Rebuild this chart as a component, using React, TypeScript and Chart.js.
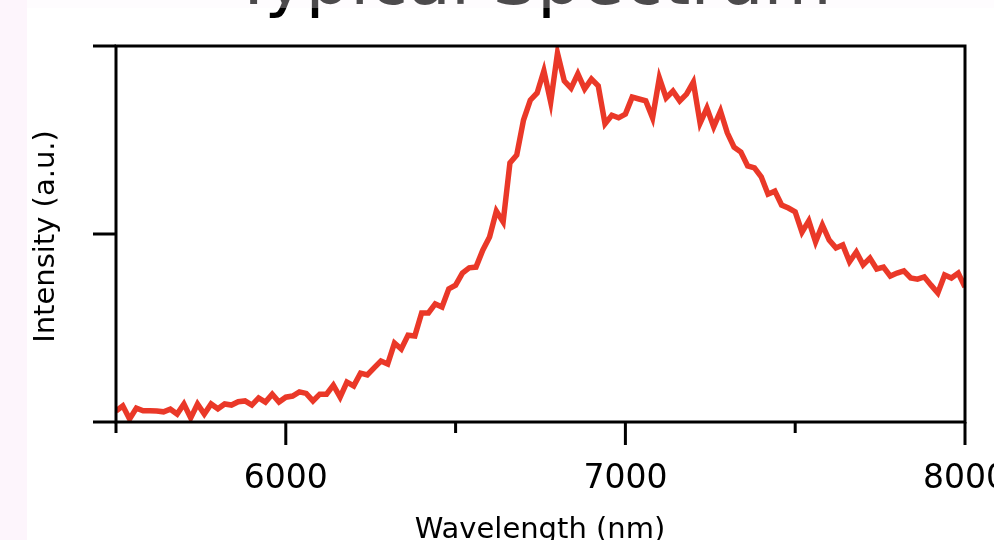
import { useEffect, useRef } from 'react';
import { Chart, registerables } from 'chart.js';

Chart.register(...registerables);

const TITLE = 'Typical Spectrum';
const X_TITLE = 'Wavelength (nm)';
const Y_TITLE = 'Intensity (a.u.)';

const wavelengths = [
  5500, 5520, 5540, 5560, 5580, 5600, 5620, 5640, 5660, 5680,
  5700, 5720, 5740, 5760, 5780, 5800, 5820, 5840, 5860, 5880,
  5900, 5920, 5940, 5960, 5980, 6000, 6020, 6040, 6060, 6080,
  6100, 6120, 6140, 6160, 6180, 6200, 6220, 6240, 6260, 6280,
  6300, 6320, 6340, 6360, 6380, 6400, 6420, 6440, 6460, 6480,
  6500, 6520, 6540, 6560, 6580, 6600, 6620, 6640, 6660, 6680,
  6700, 6720, 6740, 6760, 6780, 6800, 6820, 6840, 6860, 6880,
  6900, 6920, 6940, 6960, 6980, 7000, 7020, 7040, 7060, 7080,
  7100, 7120, 7140, 7160, 7180, 7200, 7220, 7240, 7260, 7280,
  7300, 7320, 7340, 7360, 7380, 7400, 7420, 7440, 7460, 7480,
  7500, 7520, 7540, 7560, 7580, 7600, 7620, 7640, 7660, 7680,
  7700, 7720, 7740, 7760, 7780, 7800, 7820, 7840, 7860, 7880,
  7900, 7920, 7940, 7960, 7980, 8000,
];

const intensity = [
  0.029, 0.043, 0.008, 0.037, 0.030, 0.030, 0.029, 0.027, 0.034, 0.021,
  0.048, 0.011, 0.048, 0.021, 0.048, 0.035, 0.048, 0.045, 0.054, 0.056,
  0.045, 0.064, 0.053, 0.074, 0.053, 0.066, 0.069, 0.080, 0.076, 0.056,
  0.074, 0.074, 0.098, 0.066, 0.106, 0.096, 0.130, 0.125, 0.144, 0.162,
  0.154, 0.210, 0.194, 0.231, 0.229, 0.290, 0.290, 0.314, 0.306, 0.354,
  0.364, 0.396, 0.410, 0.412, 0.457, 0.492, 0.561, 0.532, 0.689, 0.710,
  0.803, 0.856, 0.875, 0.934, 0.851, 0.981, 0.907, 0.888, 0.926, 0.886,
  0.912, 0.894, 0.793, 0.816, 0.809, 0.819, 0.864, 0.859, 0.854, 0.809,
  0.915, 0.862, 0.880, 0.854, 0.872, 0.904, 0.795, 0.835, 0.785, 0.827,
  0.769, 0.731, 0.718, 0.681, 0.676, 0.652, 0.606, 0.614, 0.577, 0.569,
  0.559, 0.505, 0.535, 0.479, 0.524, 0.484, 0.463, 0.471, 0.426, 0.452,
  0.418, 0.436, 0.407, 0.412, 0.388, 0.396, 0.402, 0.383, 0.380, 0.386,
  0.364, 0.343, 0.391, 0.383, 0.396, 0.359,
];

const xTicks = [5500, 6000, 6500, 7000, 7500, 8000];
const xLabelTicks = [6000, 7000, 8000];
const yTicks = [0, 0.5, 1];

const RED = 'rgb(234, 56, 40)';
const PINK = 'rgb(253, 245, 252)';
const FONT = '"DejaVu Sans", Verdana, sans-serif';

const framePlugin = {
  id: 'igorFrame',
  beforeDraw(chart: any) {
    const { ctx, width, height } = chart;
    ctx.save();
    ctx.fillStyle = PINK;
    ctx.fillRect(0, 0, width, height);
    ctx.fillStyle = '#ffffff';
    ctx.fillRect(27, 0, width - 27, height);
    ctx.restore();
  },
  afterDatasetsDraw(chart: any) {
    const { ctx, chartArea } = chart;
    const xs = chart.scales.x;
    const ys = chart.scales.y;
    const { left, right, top, bottom } = chartArea;
    ctx.save();
    ctx.strokeStyle = '#000';
    ctx.lineWidth = 3;
    ctx.lineCap = 'butt';
    ctx.beginPath();
    ctx.rect(left, top, right - left, bottom - top);
    ctx.stroke();
    ctx.beginPath();
    for (const v of yTicks) {
      const y = ys.getPixelForValue(v);
      ctx.moveTo(left - 23, y);
      ctx.lineTo(left, y);
    }
    for (const v of xTicks) {
      const x = xs.getPixelForValue(v);
      const len = xLabelTicks.includes(v) ? 23 : 11;
      ctx.moveTo(x, bottom);
      ctx.lineTo(x, bottom + len);
    }
    ctx.stroke();
    ctx.restore();
  },
  afterDraw(chart: any) {
    const { ctx, chartArea, width } = chart;
    const xs = chart.scales.x;
    const { bottom } = chartArea;
    ctx.save();
    ctx.fillStyle = '#000';
    ctx.font = `33px ${FONT}`;
    ctx.textAlign = 'center';
    ctx.textBaseline = 'alphabetic';
    for (const v of xLabelTicks) {
      ctx.fillText(String(v), xs.getPixelForValue(v), bottom + 66);
    }
    ctx.font = `29px ${FONT}`;
    ctx.fillText(X_TITLE, 540, 538);
    ctx.save();
    ctx.translate(54, 236.5);
    ctx.rotate(-Math.PI / 2);
    ctx.textAlign = 'center';
    ctx.fillText(Y_TITLE, 0, 0);
    ctx.restore();
    ctx.font = `70px ${FONT}`;
    ctx.textAlign = 'center';
    ctx.fillText(TITLE, 532, 4);
    ctx.fillStyle = 'rgba(253, 245, 252, 0.3)';
    ctx.fillRect(0, 0, width, 8);
    ctx.fillStyle = PINK;
    ctx.fillRect(0, 0, 27, chart.height);
    ctx.restore();
  },
};

export default function App() {
  const ref = useRef<HTMLCanvasElement>(null);
  useEffect(() => {
    const points = wavelengths.map((x, i) => ({ x, y: intensity[i] }));
    const chart = new Chart(ref.current as HTMLCanvasElement, {
      type: 'line',
      data: {
        datasets: [
          {
            data: points,
            borderColor: RED,
            backgroundColor: RED,
            borderWidth: 5.5,
            pointRadius: 0,
            tension: 0,
            fill: false,
            borderJoinStyle: 'miter',
          } as any,
        ],
      },
      options: {
        responsive: false,
        animation: false,
        devicePixelRatio: 1,
        events: [],
        layout: { padding: { left: 116, right: 29, top: 46, bottom: 118 }, autoPadding: false } as any,
        plugins: {
          legend: { display: false },
          tooltip: { enabled: false },
          title: { display: false },
        },
        scales: {
          x: { type: 'linear', min: 5500, max: 8000, display: false },
          y: { type: 'linear', min: 0, max: 1, display: false },
        },
      },
      plugins: [framePlugin],
    });
    return () => chart.destroy();
  }, []);
  return (
    <div style={{ position: 'fixed', left: 0, top: 0, width: 994, height: 540 }}>
      <canvas ref={ref} width={994} height={540} style={{ display: 'block', width: 994, height: 540 }} />
    </div>
  );
}
